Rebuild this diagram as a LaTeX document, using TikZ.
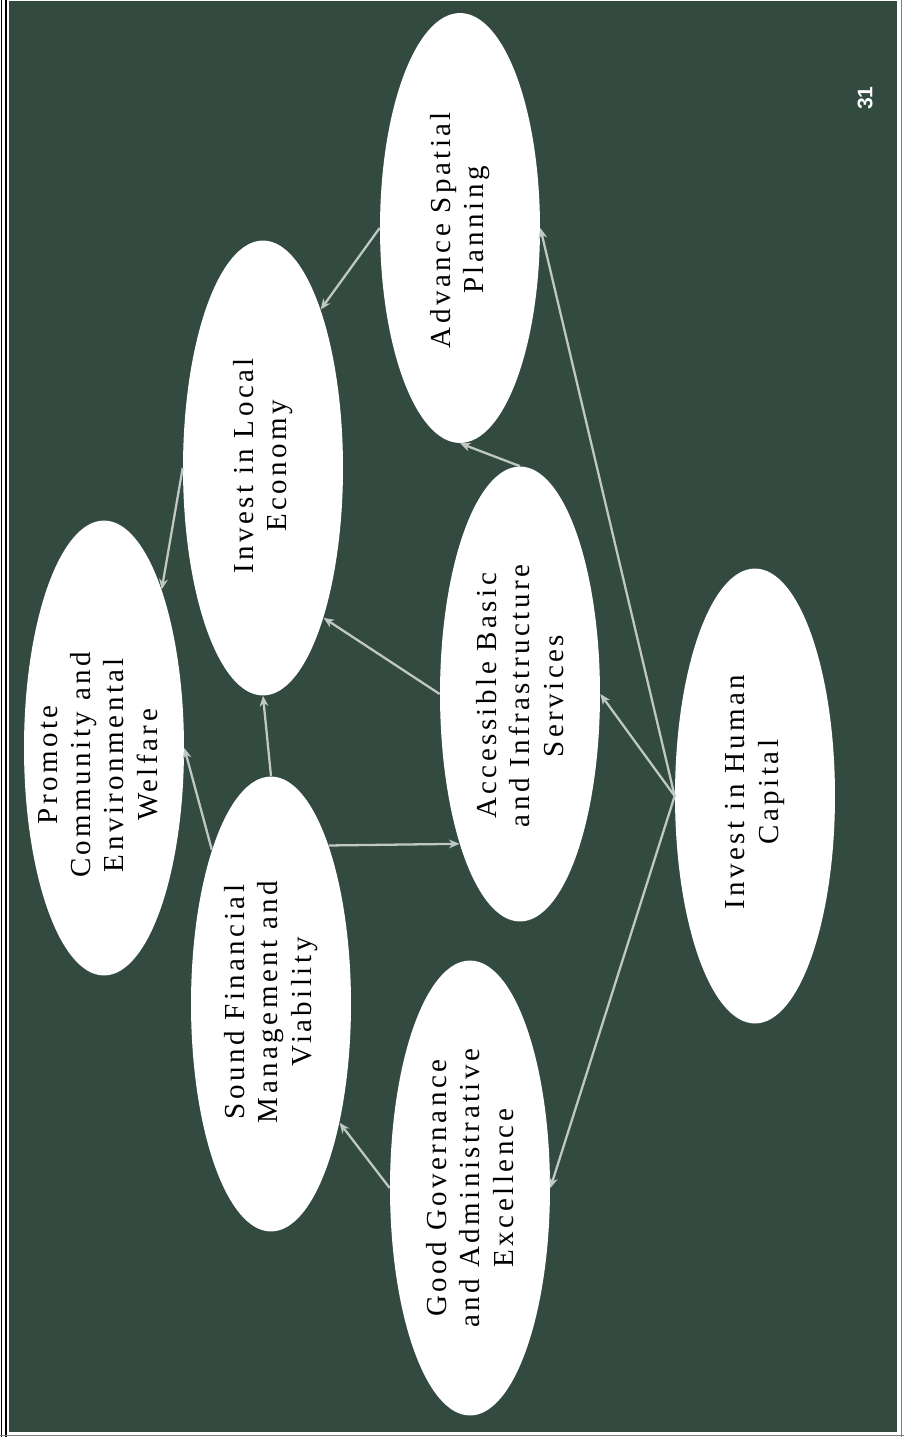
\documentclass[tikz,border=0pt]{standalone}
\usepackage{fontspec}
\setmainfont[LetterSpace=12]{Liberation Serif}
\newfontfamily\pagenofont{Liberation Sans}
\usetikzlibrary{shapes.geometric,arrows.meta}
\definecolor{bggreen}{RGB}{50,74,63}
\definecolor{linkgray}{RGB}{192,200,196}
\tikzstyle{every node}+=[inner sep=0pt]

\begin{document}
\begin{tikzpicture}[x=0.02cm,y=-0.02cm]
\tikzstyle{every node}+=[inner sep=0pt]
\tikzstyle{goal}=[ellipse, fill=white, minimum width=3.2cm, minimum height=9.1cm]
\tikzstyle{goaltext}=[rotate=90, align=center, font=\fontsize{16.5}{19}\selectfont]
\tikzstyle{link}=[draw=linkgray, line width=1.3pt, -{Stealth[length=6pt,width=5pt]}]

% page and slide
\useasboundingbox (0,0) rectangle (904,1437);
\fill [white] (0,0) rectangle (904,1437);
\fill [bggreen] (9,1) rectangle (897,1432);
\draw [black, line width=0.6pt] (1.5,0) -- (1.5,1437);
\draw [black, line width=0.6pt] (6,0) -- (6,1437);
\draw [gray, line width=0.5pt] (901,0) -- (901,1437);
\draw [gray, line width=0.5pt] (0,1435) -- (904,1435);

% goals
\node [goal] (welfare) at (104,748) {};
\node [goaltext] (welfare-text) at (98,765) {Promote\\Community and\\Environmental\\Welfare};

\node [goal] (economy) at (263,468) {};
\node [goaltext] (economy-text) at (263,466) {Invest in Local\\Economy};

\node [goal, minimum height=8.6cm] (spatial) at (460,228) {};
\node [goaltext] (spatial-text) at (460,230) {Advance Spatial\\Planning};

\node [goal] (services) at (520,694) {};
\node [goaltext] (services-text) at (520,696) {Accessible Basic\\and Infrastructure\\Services};

\node [goal] (capital) at (755,796) {};
\node [goaltext] (capital-text) at (755,792) {Invest in Human\\Capital};

\node [goal] (finance) at (271,1004) {};
\node [goaltext] (finance-text) at (271,1002) {Sound Financial\\Management and\\Viability};

\node [goal] (governance) at (470,1188) {};
\node [goaltext] (governance-text) at (470,1188) {Good Governance\\and Administrative\\Excellence};

\node [rotate=90, text=white, font=\pagenofont\bfseries\fontsize{12}{14}\selectfont] (pageno) at (865,98) {31};

% links
\draw [link] (spatial.west) -- (economy.70);
\draw [link] (economy.west) -- (welfare.70);
\draw [link] (services.west) -- (economy.-68);
\draw [link] (services.north) -- (spatial.south);
\draw [link] (finance.north) -- (economy.south);
\draw [link] (finance.111) -- (welfare.east);
\draw [link] (finance.70) -- (services.248);
\draw [link] (capital.west) -- (services.east);
\draw [link] (capital.west) -- (spatial.east);
\draw [link] (capital.west) -- (governance.east);
\draw [link] (governance.west) -- (finance.-60);
\end{tikzpicture}
\end{document}
